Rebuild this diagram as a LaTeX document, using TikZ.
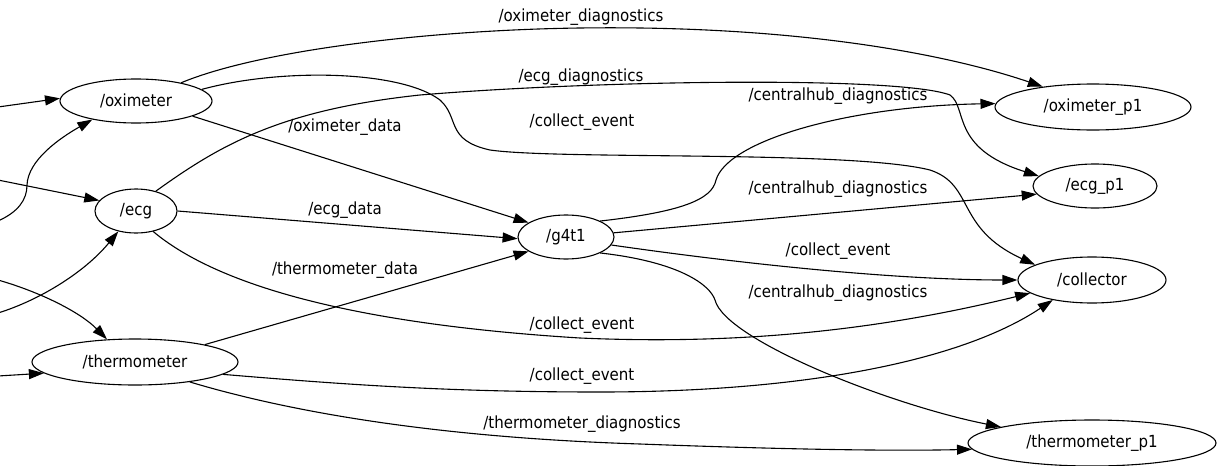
\documentclass[tikz,border=0pt]{standalone}
\usepackage{fontspec}
\setmainfont{DejaVu Sans Condensed}
\usetikzlibrary{arrows.meta,shapes.geometric}
\begin{document}
\begin{tikzpicture}[x=1pt,y=-1pt,
  topic/.style={draw, ellipse, line width=1.1pt, inner sep=0pt,
    font=\fontsize{16.7}{20}\selectfont},
  lbl/.style={font=\fontsize{16.7}{20}\selectfont, inner sep=0pt},
  edge/.style={line width=1.1pt, -{Triangle[length=15pt,width=10pt]}}]
\useasboundingbox (0,0) rectangle (1219,466);

% publishers
\node[topic, minimum width=152pt, minimum height=44pt] (oxi) at (136,101) {/oximeter};
\node[topic, minimum width=82pt,  minimum height=44pt] (ecg) at (136,211) {/ecg};
\node[topic, minimum width=206pt, minimum height=46pt] (therm) at (135,362) {/thermometer};
% hub
\node[topic, minimum width=96pt,  minimum height=44pt] (hub) at (566,237) {/g4t1};
% subscribers
\node[topic, minimum width=196pt, minimum height=46pt] (oxp) at (1093,107) {/oximeter\_p1};
\node[topic, minimum width=124pt, minimum height=44pt] (ecgp) at (1095,186) {/ecg\_p1};
\node[topic, minimum width=148pt, minimum height=46pt] (coll) at (1092,280) {/collector};
\node[topic, minimum width=248pt, minimum height=46pt] (thp) at (1092,443) {/thermometer\_p1};

% incoming connections from the left edge
\coordinate (s1) at (-2,107);
\coordinate (s2) at (-2,221);
\coordinate (s3) at (-2,180);
\coordinate (s4) at (-2,313);
\coordinate (s5) at (-2,280);
\coordinate (s6) at (-2,376);
\draw[edge] (s1) -- (oxi.178);
\draw[edge] (s2) .. controls (18,212) and (27,200) .. (27,185)
  .. controls (28,160) and (60,138) .. (oxi.203);
\draw[edge] (s3) -- (ecg.164);
\draw[edge] (s4) .. controls (40,300) and (85,272) .. (ecg.229);
\draw[edge] (s5) .. controls (40,292) and (80,312) .. (therm.141);
\draw[edge] (s6) -- (therm.187);

% /oximeter
\draw[edge] (oxi.22) .. controls (260,50) and (430,30) .. (580,28)
  .. controls (800,25) and (950,55) .. (oxp.158);
\draw[edge] (oxi.10) .. controls (280,68) and (400,70) .. (440,100)
  .. controls (460,118) and (445,140) .. (490,150)
  .. controls (560,160) and (850,150) .. (930,170)
  .. controls (975,185) and (955,228) .. (coll.165);
\draw[edge] (oxi.345) -- (hub.159);

% /ecg
\draw[edge] (ecg.45) .. controls (220,145) and (280,110) .. (420,95)
  .. controls (600,80) and (900,76) .. (950,95)
  .. controls (968,108) and (950,148) .. (ecgp.170);
\draw[edge] (ecg.0) -- (hub.182);
\draw[edge] (ecg.-50) .. controls (205,275) and (320,322) .. (580,338)
  .. controls (760,346) and (900,325) .. (coll.192);

% /thermometer
\draw[edge] (therm.14) -- (hub.201);
\draw[edge] (therm.-8) .. controls (350,385) and (450,392) .. (600,392)
  .. controls (800,392) and (960,362) .. (coll.207);
\draw[edge] (therm.-20) .. controls (300,415) and (450,438) .. (640,444)
  .. controls (800,450) and (900,451) .. (thp.183);

% /g4t1
\draw[edge] (hub.25) .. controls (680,212) and (712,200) .. (716,180)
  .. controls (728,140) and (850,106) .. (oxp.178);
\draw[edge] (hub.5) -- (ecgp.188);
\draw[edge] (hub.-10) .. controls (750,265) and (900,280) .. (coll.west);
\draw[edge] (hub.-25) .. controls (680,262) and (710,285) .. (715,300)
  .. controls (725,340) and (890,405) .. (thp.170);

% topic labels
\node[lbl] (t1)  at (581,17)  {/oximeter\_diagnostics};
\node[lbl] (t2)  at (581,77)  {/ecg\_diagnostics};
\node[lbl] (t3)  at (345,127) {/oximeter\_data};
\node[lbl] (t4)  at (582,122) {/collect\_event};
\node[lbl] (t5)  at (838,96)  {/centralhub\_diagnostics};
\node[lbl] (t6)  at (838,189) {/centralhub\_diagnostics};
\node[lbl] (t7)  at (345,210) {/ecg\_data};
\node[lbl] (t8)  at (838,251) {/collect\_event};
\node[lbl] (t9)  at (345,270) {/thermometer\_data};
\node[lbl] (t10) at (838,293) {/centralhub\_diagnostics};
\node[lbl] (t11) at (582,325) {/collect\_event};
\node[lbl] (t12) at (582,376) {/collect\_event};
\node[lbl] (t13) at (582,424) {/thermometer\_diagnostics};
\end{tikzpicture}
\end{document}
